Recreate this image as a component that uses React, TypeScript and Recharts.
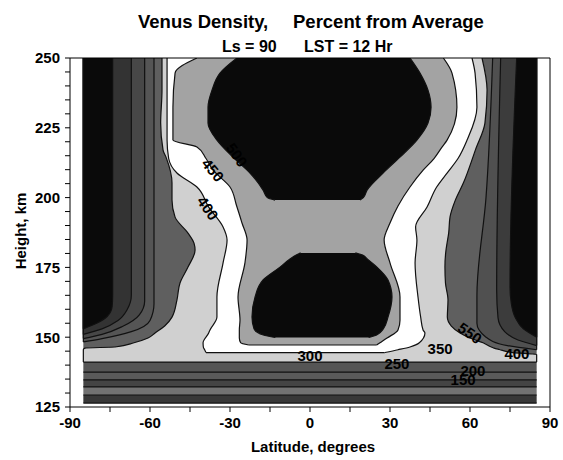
import React from 'react';
import { ComposedChart, Area, Line, XAxis, YAxis, ReferenceLine, ReferenceDot } from 'recharts';

const FONT = '"Liberation Sans", Arial, Helvetica, sans-serif';

// axes
const latTicks = [-90, -75, -60, -45, -30, -15, 0, 15, 30, 45, 60, 75, 90];
const latLabels = [-90, -60, -30, 0, 30, 60, 90];
const heightTicks = [125, 130, 135, 140, 145, 150, 155, 160, 165, 170, 175, 180, 185, 190, 195, 200, 205, 210, 215, 220, 225, 230, 235, 240, 245, 250];
const heightLabels = [125, 150, 175, 200, 225, 250];

// model grid extent (latitude)
const gridLat = [-85, 85];

// lower atmosphere layers (km)
const layerEdges = [126.4, 129.3, 132.2, 134.7, 137.5, 141.1];
const layerGrays = ['#383838', '#727272', '#444444', '#5a5a5a', '#555555'];

// dark background above the layers
const darkH = [141.1, 250];

// contour regions: heights (km) and west / east latitude of each region
const lightH = [141.1, 143.8, 144.5, 145.6, 146.1, 146.5, 148, 149.7, 151.5, 154, 157.2, 163.3, 169.4, 175.1, 181.2, 183.7, 187.3, 193, 199.1, 205.2, 214.5, 217, 226.7, 238.5, 250];
const lightW = [-85, -85, -85, -85, -84.4, -73.1, -66, -60.75, -58.1, -54.5, -51.75, -49.9, -48.75, -45.75, -43.1, -43.5, -45.75, -50.6, -51.75, -51.75, -54, -55.1, -56, -55.5, -55.5];
const lightE = [85, 85, 76, 71, 69, 68, 64.9, 60, 56.25, 53, 51.5, 51.75, 50.8, 50.6, 51, 51.4, 52, 52.5, 54.5, 57.5, 61.1, 62, 65.6, 66.4, 64.5];

const whiteH = [144.5, 145.5, 146.5, 148, 151.5, 152.6, 157.2, 164.4, 176.6, 184.8, 189.5, 196.6, 203.8, 208.8, 214, 220.6, 232.4, 244.6, 250];
const whiteW = [-39, -39.5, -40, -40.1, -38, -37.5, -34.9, -34.9, -32.6, -31.1, -32.6, -38, -42.4, -49.9, -53, -53.6, -53.6, -53.6, -53.6];
const whiteE = [28, 33, 37.5, 41, 43.1, 42.4, 41.5, 40.5, 39.4, 40.1, 39.6, 43.9, 47.5, 51.4, 55.5, 58.9, 62.6, 61.9, 60.75];

const grayH = [147.2, 148, 149.7, 152.6, 156.1, 164.4, 176.6, 184.8, 190.9, 197, 203.8, 209.9, 214, 218.1, 220.6, 232.4, 244.6, 250];
const grayW = [-23, -26, -26.5, -26.5, -26.25, -27, -24.4, -23.6, -25.5, -27.5, -30, -36.4, -39, -42.4, -51.4, -51.4, -50.6, -42.4];
const grayE = [25, 26.25, 28.9, 33, 33.75, 33.75, 30, 27.8, 30, 33, 37.5, 42.5, 46.5, 49.5, 51.4, 55.1, 53.25, 50];

const upperH = [199.1, 200, 202.7, 208.8, 214.5, 220.6, 226.7, 232.4, 238.5, 244.6, 250];
const upperW = [-13.1, -16, -17.6, -22.5, -28.9, -34.9, -38.25, -38.25, -36.75, -33.75, -27.4];
const upperE = [18.75, 20, 21.4, 27.4, 33.75, 40.1, 44.25, 45.4, 44.25, 41.25, 37.5];

const lowerH = [149.9, 150.8, 153, 157.2, 164.4, 170.5, 175.1, 178, 179.5, 180.2];
const lowerW = [-13, -17.5, -21, -21.75, -20.6, -17.6, -11.25, -7.5, -5, -3.5];
const lowerE = [22, 25, 27.5, 29.25, 30.75, 29.25, 25.1, 21.5, 19.5, 17];

// polar bands (west side: from -85 to edge, east side: from edge to 85)
const westBandH = [
  [148.3, 149.5, 152, 156, 162, 250],
  [149.5, 151, 154, 158, 163, 250],
  [151, 153, 156, 160, 165, 250],
  [153, 155, 157.5, 161, 165, 250],
];
const westBandEdge = [
  [-85, -78, -67, -60, -58.5, -58.5],
  [-85, -78, -70, -64, -62, -62],
  [-85, -78, -72, -68.5, -67, -67],
  [-85, -80, -76, -74.2, -74, -74],
];
const eastBandH = [
  [145.5, 147, 150, 155, 165, 200, 250],
  [147, 149, 152, 157, 167, 250],
  [150, 153, 157, 162, 168, 250],
];
const eastBandEdge = [
  [85, 74, 66, 62.6, 62.6, 66, 68.5],
  [85, 78, 73, 70.5, 70, 71.5],
  [85, 80, 77, 75.5, 75, 77.5],
];

const contourLabels = [
  { text: '500', lat: -27.4, h: 215.3, angle: 55 },
  { text: '450', lat: -36.4, h: 209.9, angle: 50 },
  { text: '400', lat: -38.3, h: 196.2, angle: 55 },
  { text: '300', lat: 0, h: 143.4, angle: 0 },
  { text: '350', lat: 48.8, h: 146.1, angle: 0 },
  { text: '400', lat: 77.6, h: 144.3, angle: 0 },
  { text: '250', lat: 32.6, h: 140.7, angle: 0 },
  { text: '200', lat: 61.1, h: 138.2, angle: 0 },
  { text: '150', lat: 57.4, h: 134.7, angle: 0 },
  { text: '550', lat: 60, h: 151.5, angle: 35 },
];

const span = (h: number[], w: number[], e: number[]) => h.map((v, i) => ({ h: v, span: [w[i], e[i]] }));
const westBand = (i: number) => span(westBandH[i], westBandH[i].map(() => gridLat[0]), westBandEdge[i]);
const eastBand = (i: number) => span(eastBandH[i], eastBandEdge[i], eastBandH[i].map(() => gridLat[1]));
const flat = (h: number, w: number, e: number) => [{ h, lat: w }, { h, lat: e }];

const LINE = '#111';
const westGrays = ['#555555', '#474747', '#333333', '#0a0a0a'];
const eastGrays = ['#505050', '#3c3c3c', '#0a0a0a'];

const regions = [
  { id: 'dark', data: span(darkH, [gridLat[0], gridLat[0]], [gridLat[1], gridLat[1]]), fill: '#5f5f5f', stroke: 'none' },
  ...westBandH.map((_, i) => ({ id: 'w' + i, data: westBand(i), fill: westGrays[i], stroke: LINE })),
  ...eastBandH.map((_, i) => ({ id: 'e' + i, data: eastBand(i), fill: eastGrays[i], stroke: LINE })),
  { id: 'light', data: span(lightH, lightW, lightE), fill: '#d0d0d0', stroke: LINE },
  { id: 'white', data: span(whiteH, whiteW, whiteE), fill: '#ffffff', stroke: LINE },
  { id: 'gray', data: span(grayH, grayW, grayE), fill: '#a3a3a3', stroke: LINE },
  { id: 'upper', data: span(upperH, upperW, upperE), fill: '#0a0a0a', stroke: LINE },
  { id: 'lower', data: span(lowerH, lowerW, lowerE), fill: '#0a0a0a', stroke: LINE },
];

const edgeLines = [
  ...layerEdges.map((h) => flat(h, gridLat[0], gridLat[1])),
  flat(whiteH[0], whiteW[0], whiteE[0]),
  flat(grayH[0], grayW[0], grayE[0]),
];

const tickStyle = { fill: '#000', fontSize: 15, fontWeight: 700, fontFamily: FONT };

export default function App() {
  return (
    <div style={{ position: 'absolute', left: 0, top: 0, width: 563, height: 460, background: '#fff' }}>
      <ComposedChart
        layout="vertical"
        width={563}
        height={460}
        margin={{ top: 58, right: 13, bottom: 23, left: 30 }}
      >
        <XAxis
          type="number"
          domain={[-90, 90]}
          allowDataOverflow
          ticks={latTicks}
          interval={0}
          tickFormatter={(v: number) => (latLabels.includes(v) ? String(v) : '')}
          tick={tickStyle}
          tickSize={5}
          tickMargin={5}
          height={30}
          axisLine={{ stroke: '#000' }}
          tickLine={{ stroke: '#000' }}
        />
        <YAxis
          type="number"
          dataKey="h"
          domain={[125, 250]}
          reversed
          allowDataOverflow
          ticks={heightTicks}
          interval={0}
          tickFormatter={(v: number) => (heightLabels.includes(v) ? String(v) : '')}
          tick={tickStyle}
          tickSize={5}
          tickMargin={5}
          width={40}
          axisLine={{ stroke: '#000' }}
          tickLine={{ stroke: '#000' }}
        />
        {layerGrays.map((g, i) => (
          <Area
            key={'layer' + i}
            data={span([layerEdges[i], layerEdges[i + 1]], [gridLat[0], gridLat[0]], [gridLat[1], gridLat[1]])}
            dataKey="span"
            type="linear"
            fill={g}
            fillOpacity={1}
            stroke="none"
            dot={false}
            activeDot={false}
            isAnimationActive={false}
          />
        ))}
        {regions.map((r) => (
          <Area
            key={r.id}
            data={r.data}
            dataKey="span"
            type="monotone"
            fill={r.fill}
            fillOpacity={1}
            stroke={r.stroke}
            strokeWidth={1.2}
            dot={false}
            activeDot={false}
            isAnimationActive={false}
          />
        ))}
        {edgeLines.map((d, i) => (
          <Line
            key={'edge' + i}
            data={d}
            dataKey="lat"
            type="linear"
            stroke={LINE}
            strokeWidth={1.2}
            dot={false}
            activeDot={false}
            isAnimationActive={false}
          />
        ))}
        {contourLabels.map((c, i) => (
          <ReferenceDot
            key={'lab' + i}
            x={c.lat}
            y={c.h}
            r={0}
            ifOverflow="visible"
            shape={(p: any) => (
              <text
                x={p.cx}
                y={p.cy}
                textAnchor="middle"
                dominantBaseline="central"
                transform={`rotate(${c.angle} ${p.cx} ${p.cy})`}
                fontFamily={FONT}
                fontWeight={700}
                fontSize={15}
                fill="#000"
              >
                {c.text}
              </text>
            )}
          />
        ))}
        <ReferenceLine y={250} stroke="#000" />
        <ReferenceLine x={90} stroke="#000" />
      </ComposedChart>
      <svg
        width={563}
        height={460}
        style={{ position: 'absolute', left: 0, top: 0, pointerEvents: 'none' }}
        fontFamily={FONT}
        fontWeight={700}
      >
        <text x={138} y={28} fontSize={18.5}>Venus Density,</text>
        <text x={293} y={28} fontSize={18.5}>Percent from Average</text>
        <text x={222} y={52} fontSize={16}>Ls = 90</text>
        <text x={304} y={52} fontSize={16}>LST = 12 Hr</text>
        <text x={313} y={452} fontSize={15} textAnchor="middle">Latitude, degrees</text>
        <text x={26} y={231} fontSize={15} textAnchor="middle" transform="rotate(-90 26 231)">Height, km</text>
      </svg>
    </div>
  );
}
